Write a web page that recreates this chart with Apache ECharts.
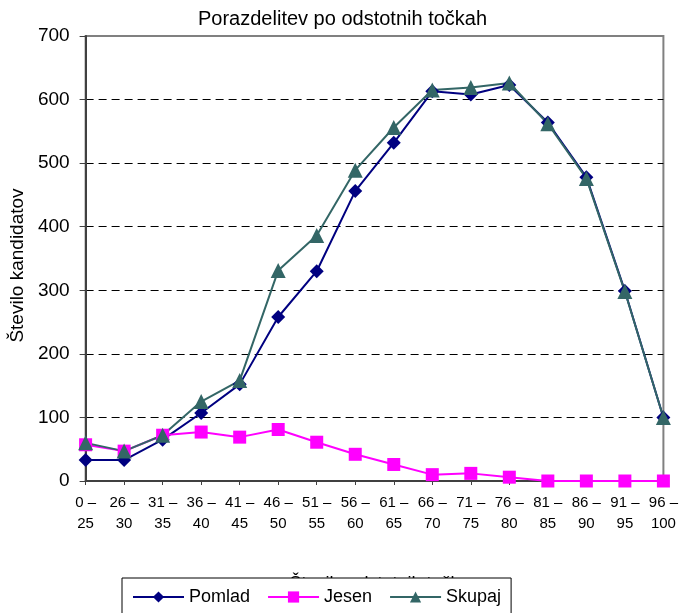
<!DOCTYPE html>
<html>
<head>
<meta charset="utf-8">
<script src="https://cdn.jsdelivr.net/npm/echarts@6/dist/echarts.min.js"></script>
<style>html,body{margin:0;padding:0;background:#fff}#c{width:681px;height:613px}</style>
</head>
<body>
<div id="c"></div>
<script>
var categories = ["0 –\n25","26 –\n30","31 –\n35","36 –\n40","41 –\n45","46 –\n50","51 –\n55","56 –\n60","61 –\n65","66 –\n70","71 –\n75","76 –\n80","81 –\n85","86 –\n90","91 –\n95","96 –\n100"];
var pomlad = [33, 33, 65, 107, 152, 258, 330, 456, 532, 613, 608, 623, 564, 478, 299, 100];
var jesen  = [57, 47, 72, 77, 69, 81, 61, 42, 26, 10, 12, 6, 0, 0, 0, 0];
var skupaj = [60, 47, 72, 125, 158, 331, 386, 489, 556, 615, 619, 626, 562, 476, 298, 100];
var seriesNames = ["Pomlad", "Jesen", "Skupaj"];
var titleText = "Porazdelitev po odstotnih točkah";
var xName = "Število odstotnih točk";
var yName = "Število kandidatov";

var FONT = "Liberation Sans, Arial, sans-serif";
var chart = echarts.init(document.getElementById('c'), null, {renderer: 'canvas'});
chart.setOption({
  animation: false,
  backgroundColor: '#fff',
  textStyle: {fontFamily: FONT},
  title: {
    text: titleText, left: 198, top: 9, padding: 0,
    textStyle: {fontFamily: FONT, fontSize: 20, fontWeight: 'normal', color: '#000'}
  },
  legend: {
    data: seriesNames,
    left: 122, top: 578,
    padding: [10, 10, 10, 10],
    itemWidth: 51, itemHeight: 14, itemGap: 17,
    backgroundColor: '#fff', borderColor: '#000', borderWidth: 1,
    textStyle: {fontFamily: FONT, fontSize: 18, color: '#000'}
  },
  grid: {
    left: 83, right: 16, top: 36, bottom: 132,
    show: true, borderColor: '#808080', borderWidth: 2, backgroundColor: 'transparent',
    containLabel: false
  },
  xAxis: {
    type: 'category', data: categories, boundaryGap: false,
    name: xName, nameLocation: 'middle', nameGap: 94,
    nameTextStyle: {fontFamily: FONT, fontSize: 18, color: '#000'},
    axisLine: {lineStyle: {color: '#404040', width: 2}},
    axisTick: {show: true, length: 4, alignWithLabel: true, lineStyle: {color: '#404040'}},
    axisLabel: {fontFamily: FONT, fontSize: 15, color: '#000', margin: 11, lineHeight: 21, interval: 0},
    splitLine: {show: false}
  },
  yAxis: {
    type: 'value', min: 0, max: 700, interval: 100,
    name: yName, nameLocation: 'middle', nameGap: 57, nameRotate: 90,
    nameTextStyle: {fontFamily: FONT, fontSize: 19, color: '#000', padding: [0, 14, 0, 0]},
    axisLine: {show: true, lineStyle: {color: '#404040', width: 2}},
    axisTick: {show: true, length: 6, lineStyle: {color: '#404040'}},
    axisLabel: {fontFamily: FONT, fontSize: 19, color: '#000', margin: 16},
    splitLine: {show: true, lineStyle: {color: ['#404040','#000','#000','#000','#000','#000','#000','#808080'], width: 1, type: [8, 5]}}
  },
  series: [
    {name: seriesNames[0], type: 'line', data: pomlad, symbol: 'diamond', symbolSize: 14,
     itemStyle: {color: '#000080'}, lineStyle: {color: '#000080', width: 2}},
    {name: seriesNames[1], type: 'line', data: jesen, symbol: 'rect', symbolSize: 13,
     itemStyle: {color: '#FF00FF'}, lineStyle: {color: '#FF00FF', width: 2}},
    {name: seriesNames[2], type: 'line', data: skupaj, symbol: 'triangle', symbolSize: 15,
     itemStyle: {color: '#336666'}, lineStyle: {color: '#336666', width: 2}}
  ]
});
</script>
</body>
</html>
